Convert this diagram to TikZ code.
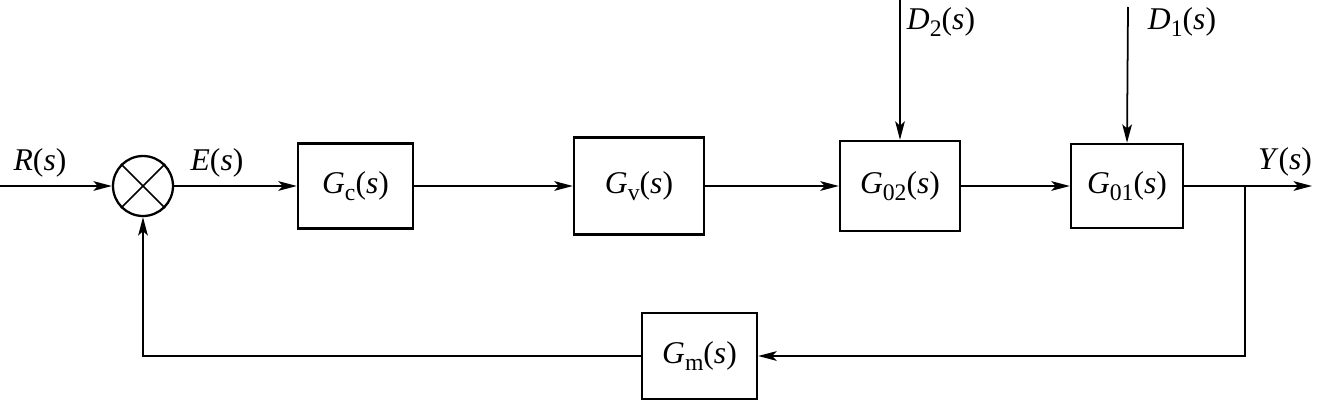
\documentclass[tikz,border=0pt]{standalone}
\usepackage{fontspec}
\setmainfont{Liberation Serif}
\usetikzlibrary{arrows.meta}
\newcommand\lowsub[1]{\raisebox{-0.45ex}{\fontsize{13.5}{14}\selectfont #1}}
\newcommand\sig[2]{\textit{#1}\lowsub{#2}(\textit{s})}
\begin{document}
\begin{tikzpicture}[x=0.02cm,y=-0.02cm,
  font=\fontsize{18}{22}\selectfont,
  blk/.style={draw,line width=1.4pt,inner sep=0pt},
  conn/.style={line width=1.0pt,-{Stealth[length=10.5pt,width=5.5pt,inset=2.5pt]}},
  lbl/.style={inner sep=0pt}]
\useasboundingbox (0,0) rectangle (1318,402);
% junction
\node[draw,circle,line width=1.3pt,minimum size=1.2cm,inner sep=0pt] (sum) at (143,186) {};
\draw[line width=1.0pt] (sum.45) -- (sum.225) (sum.135) -- (sum.315);
% blocks
\node[blk,minimum width=2.30cm,minimum height=1.70cm] (gc) at (355.5,186) {\sig{G}{c}};
\node[blk,minimum width=2.60cm,minimum height=1.94cm] (gv) at (639,186) {\sig{G}{v}};
\node[blk,minimum width=2.40cm,minimum height=1.80cm] (g02) at (900,186) {\sig{G}{02}};
\node[blk,minimum width=2.24cm,minimum height=1.68cm] (g01) at (1127,186) {\sig{G}{01}};
\node[blk,minimum width=2.30cm,minimum height=1.72cm] (gm) at (699.5,356) {\sig{G}{m}};
% coordinates
\coordinate (in) at (0,186);
\coordinate (br) at (1245,186);
\coordinate (out) at (1312,186);
\coordinate (d2) at (900,0);
\coordinate (d1) at (1128,7);
\coordinate (fb) at (1245,356);
% connectors
\draw[conn] (in) -- (sum.west);
\draw[conn] (sum.east) -- (gc.west);
\draw[conn] (gc.east) -- (gv.west);
\draw[conn] (gv.east) -- (g02.west);
\draw[conn] (g02.east) -- (g01.west);
\draw[conn] (g01.east) -- (br) -- (out);
\draw[conn] (d2) -- (g02.north);
\draw[conn] (d1) -- (g01.north);
\draw[conn] (br) -- (fb) -- (gm.east);
\draw[conn] (gm.west) -| (sum.south);
% labels
\node[lbl] (lr) at (40,163) {\textit{R}(\textit{s})};
\node[lbl] (le) at (217,163) {\textit{E}(\textit{s})};
\node[lbl] (ld2) at (941,22) {\sig{D}{2}};
\node[lbl] (ld1) at (1182,22) {\sig{D}{1}};
\node[lbl] (ly) at (1285,162) {\textit{Y}(\textit{s})};
\end{tikzpicture}
\end{document}
